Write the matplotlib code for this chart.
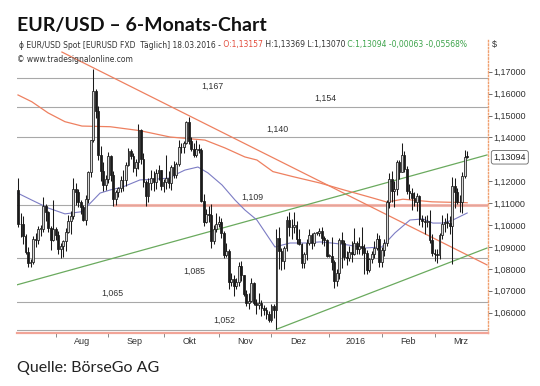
import matplotlib
matplotlib.use("Agg")
import matplotlib.pyplot as plt
import numpy as np
import pandas as pd

# daily EUR/USD bars, 13.07.2015 - 18.03.2016
dates = pd.bdate_range("2015-07-13", "2016-03-18")

opens = [
    1.1160, 1.1003, 1.1005, 1.0950, 1.0878, 1.0826, 1.0829, 1.0936, 1.0931, 1.0982, 1.0983, 1.1087, 1.1059, 1.0985, 1.0933,
    1.0982, 1.0955, 1.0890, 1.0903, 1.0925, 1.0968, 1.1017, 1.1040, 1.1166, 1.1150, 1.1106, 1.1083, 1.1025, 1.1120, 1.1242,
    1.1387, 1.1610, 1.1520, 1.1320, 1.1247, 1.1183,
    1.1211, 1.1313, 1.1228, 1.1120, 1.1150, 1.1168, 1.1204, 1.1206, 1.1276, 1.1339, 1.1314, 1.1262, 1.1287, 1.1433, 1.1302,
    1.1196, 1.1132, 1.1192, 1.1217, 1.1195, 1.1238, 1.1250,
    1.1177, 1.1195, 1.1215, 1.1193, 1.1263, 1.1228, 1.1277, 1.1357, 1.1355, 1.1376, 1.1472, 1.1382, 1.1349, 1.1318, 1.1345,
    1.1343, 1.1108, 1.1016, 1.1052, 1.1047, 1.0925, 1.0981,
    1.1005, 1.1014, 1.0962, 1.0864, 1.0882, 1.0740, 1.0752, 1.0722, 1.0739, 1.0814, 1.0773, 1.0685, 1.0644, 1.0655, 1.0734,
    1.0645, 1.0633, 1.0646, 1.0620, 1.0610, 1.0593,
    1.0565, 1.0632, 1.0612, 1.0940, 1.0883, 1.0837, 1.0893, 1.1025, 1.0992, 1.0990, 1.1000, 1.0935, 1.0913, 1.0827, 1.0867,
    1.0919, 1.0953, 1.0916, 1.0963, 1.0965, 1.0973, 1.0939, 1.0932,
    1.0860, 1.0860, 1.0830, 1.0745, 1.0782, 1.0931, 1.0919, 1.0855, 1.0850, 1.0876, 1.0866, 1.0917, 1.0891, 1.0906, 1.0895,
    1.0873, 1.0796, 1.0846, 1.0869, 1.0893, 1.0935,
    1.0831, 1.0886, 1.0919, 1.1103, 1.1208, 1.1155, 1.1163, 1.1290, 1.1244, 1.1320, 1.1254, 1.1155, 1.1146, 1.1123, 1.1107,
    1.1132, 1.1026, 1.1018, 1.1016, 1.1020, 1.0933,
    1.0873, 1.0868, 1.0865, 1.0955, 1.1003, 1.1014, 1.1011, 1.0994, 1.1178, 1.1152, 1.1106, 1.1104, 1.1222, 1.13157,
]
highs = [
    1.1215, 1.1055, 1.1040, 1.0960, 1.0902, 1.0845, 1.0950, 1.0965, 1.0995, 1.0998, 1.1130, 1.1095, 1.1065, 1.0995, 1.1113,
    1.0990, 1.0975, 1.0920, 1.0932, 1.0988, 1.1045, 1.1065, 1.1214, 1.1190, 1.1163, 1.1115, 1.1092, 1.1138, 1.1248, 1.1390,
    1.1714, 1.1620, 1.1545, 1.1360, 1.1289, 1.1227,
    1.1332, 1.1320, 1.1245, 1.1160, 1.1175, 1.1225, 1.1252, 1.1290, 1.1350, 1.1347, 1.1330, 1.1300, 1.1460, 1.1437, 1.1330,
    1.1205, 1.1215, 1.1250, 1.1245, 1.1255, 1.1275, 1.1253,
    1.1210, 1.1318, 1.1248, 1.1272, 1.1292, 1.1290, 1.1387, 1.1375, 1.1385, 1.1475, 1.1495, 1.1400, 1.1375, 1.1387, 1.1370,
    1.1350, 1.1140, 1.1075, 1.1088, 1.1095, 1.1000, 1.1055,
    1.1040, 1.1030, 1.0975, 1.0920, 1.0890, 1.0780, 1.0770, 1.0760, 1.0830, 1.0834, 1.0773, 1.0705, 1.0688, 1.0760, 1.0740,
    1.0660, 1.0690, 1.0657, 1.0635, 1.0627, 1.0607,
    1.0640, 1.0640, 1.0981, 1.0992, 1.0895, 1.0905, 1.1043, 1.1058, 1.1028, 1.1060, 1.1020, 1.0984, 1.0920, 1.0876, 1.0937,
    1.0980, 1.0965, 1.0970, 1.0968, 1.0988, 1.0993, 1.0950, 1.0938,
    1.0870, 1.0945, 1.0840, 1.0797, 1.0942, 1.0970, 1.0933, 1.0880, 1.0903, 1.0929, 1.0985, 1.0925, 1.0945, 1.0990, 1.0912,
    1.0888, 1.0850, 1.0880, 1.0925, 1.0962, 1.0955,
    1.0900, 1.0937, 1.1115, 1.1237, 1.1245, 1.1200, 1.1297, 1.1296, 1.1376, 1.1338, 1.1268, 1.1189, 1.1168, 1.1152, 1.1148,
    1.1135, 1.1048, 1.1040, 1.1047, 1.1070, 1.0960,
    1.0890, 1.0890, 1.0965, 1.1046, 1.1033, 1.1057, 1.1040, 1.1218, 1.1217, 1.1168, 1.1136, 1.1242, 1.1342, 1.13369,
]
lows = [
    1.0990, 1.0945, 1.0915, 1.0868, 1.0809, 1.0808, 1.0820, 1.0898, 1.0915, 1.0950, 1.0970, 1.1020, 1.0970, 1.0887, 1.0925,
    1.0930, 1.0870, 1.0848, 1.0852, 1.0880, 1.0962, 1.0958, 1.1028, 1.1090, 1.1083, 1.1050, 1.1017, 1.1000, 1.1102, 1.1220,
    1.1380, 1.1487, 1.1296, 1.1203, 1.1157, 1.1158,
    1.1194, 1.1203, 1.1087, 1.1090, 1.1130, 1.1150, 1.1157, 1.1180, 1.1270, 1.1300, 1.1244, 1.1223, 1.1257, 1.1277, 1.1175,
    1.1087, 1.1105, 1.1160, 1.1155, 1.1165, 1.1205, 1.1158,
    1.1152, 1.1165, 1.1168, 1.1158, 1.1215, 1.1213, 1.1270, 1.1330, 1.1330, 1.1370, 1.1371, 1.1336, 1.1312, 1.1310, 1.1328,
    1.1105, 1.0995, 1.1010, 1.1015, 1.0897, 1.0915, 1.0970,
    1.0990, 1.0940, 1.0850, 1.0854, 1.0706, 1.0720, 1.0674, 1.0710, 1.0720, 1.0743, 1.0675, 1.0630, 1.0617, 1.0650, 1.0635,
    1.0593, 1.0615, 1.0586, 1.0590, 1.0570, 1.0557,
    1.0555, 1.0575, 1.0524, 1.0800, 1.0796, 1.0800, 1.0882, 1.0950, 1.0935, 1.0965, 1.0915, 1.0910, 1.0804, 1.0806, 1.0840,
    1.0910, 1.0890, 1.0905, 1.0955, 1.0950, 1.0915, 1.0903, 1.0853,
    1.0855, 1.0795, 1.0711, 1.0722, 1.0752, 1.0804, 1.0840, 1.0818, 1.0835, 1.0830, 1.0864, 1.0870, 1.0870, 1.0865, 1.0778,
    1.0776, 1.0785, 1.0828, 1.0850, 1.0885, 1.0810,
    1.0810, 1.0860, 1.0905, 1.1080, 1.1103, 1.1082, 1.1135, 1.1210, 1.1240, 1.1240, 1.1143, 1.1120, 1.1068, 1.1085, 1.1065,
    1.1002, 1.0990, 1.0958, 1.0990, 1.0918, 1.0860,
    1.0834, 1.0825, 1.0846, 1.0937, 1.0970, 1.0985, 1.0957, 1.0822, 1.1080, 1.1095, 1.1058, 1.1056, 1.1213, 1.13070,
]
closes = [
    1.1003, 1.1005, 1.0950, 1.0878, 1.0826, 1.0829, 1.0936, 1.0931, 1.0982, 1.0983, 1.1087, 1.1059, 1.0985, 1.0933, 1.0982,
    1.0955, 1.0890, 1.0903, 1.0925, 1.0968, 1.1017, 1.1040, 1.1166, 1.1150, 1.1106, 1.1083, 1.1025, 1.1120, 1.1242, 1.1387,
    1.1610, 1.1520, 1.1320, 1.1247, 1.1183, 1.1211,
    1.1313, 1.1228, 1.1120, 1.1150, 1.1168, 1.1204, 1.1206, 1.1276, 1.1339, 1.1314, 1.1262, 1.1287, 1.1433, 1.1302, 1.1196,
    1.1132, 1.1192, 1.1217, 1.1195, 1.1238, 1.1250, 1.1177,
    1.1195, 1.1215, 1.1193, 1.1263, 1.1228, 1.1277, 1.1357, 1.1355, 1.1376, 1.1472, 1.1382, 1.1349, 1.1318, 1.1345, 1.1343,
    1.1108, 1.1016, 1.1052, 1.1047, 1.0925, 1.0981, 1.1005,
    1.1014, 1.0962, 1.0864, 1.0882, 1.0740, 1.0752, 1.0722, 1.0739, 1.0814, 1.0773, 1.0685, 1.0644, 1.0655, 1.0734, 1.0645,
    1.0633, 1.0646, 1.0620, 1.0610, 1.0593, 1.0565,
    1.0632, 1.0612, 1.0940, 1.0883, 1.0837, 1.0893, 1.1025, 1.0992, 1.0990, 1.1000, 1.0935, 1.0913, 1.0827, 1.0867, 1.0919,
    1.0953, 1.0916, 1.0963, 1.0965, 1.0973, 1.0939, 1.0932, 1.0860,
    1.0860, 1.0830, 1.0745, 1.0782, 1.0931, 1.0919, 1.0855, 1.0850, 1.0876, 1.0866, 1.0917, 1.0891, 1.0906, 1.0895, 1.0873,
    1.0796, 1.0846, 1.0869, 1.0893, 1.0935, 1.0831,
    1.0886, 1.0919, 1.1103, 1.1208, 1.1155, 1.1163, 1.1290, 1.1244, 1.1320, 1.1254, 1.1155, 1.1146, 1.1123, 1.1107, 1.1132,
    1.1026, 1.1018, 1.1016, 1.1020, 1.0933, 1.0873,
    1.0868, 1.0865, 1.0955, 1.1003, 1.1014, 1.1011, 1.0994, 1.1178, 1.1152, 1.1106, 1.1104, 1.1222, 1.1312, 1.13094,
]

# moving averages (bar index, value)
ma_long_idx = [0, 5.5, 12, 18.7, 25.5, 36.7, 48.6, 60.6, 74.5, 82.5, 90.4, 95.2, 101.6, 109.6, 120.3, 130, 140, 147, 153.4, 165, 179]
ma_long_val = [1.1594, 1.1563, 1.1512, 1.1472, 1.1452, 1.1449, 1.1431, 1.1402, 1.1388, 1.1352, 1.1311, 1.1297, 1.1244,
               1.1221, 1.1192, 1.1160, 1.1128, 1.1105, 1.1118, 1.1106, 1.1102]
ma_short_idx = [0, 5.5, 12, 18.7, 25.5, 30, 32.7, 36.7, 41.8, 48.6, 55.4, 60.6, 62.5, 66.5, 71.7, 75.7, 81.3, 86.5, 90.4,
                95.2, 102.4, 108.4, 115.1, 120.3, 125, 131.5, 138.2, 145, 150.2, 156.2, 161.4, 165.3, 169.3, 173.3, 179]
ma_short_val = [1.1145, 1.1114, 1.1078, 1.1051, 1.1061, 1.1114, 1.1146, 1.1160, 1.1174, 1.1206, 1.1210, 1.1215, 1.1229,
                1.1251, 1.1265, 1.1238, 1.1183, 1.1114, 1.1069, 1.1023, 1.0900, 1.0918, 1.0918, 1.0923, 1.0918, 1.0909,
                1.0895, 1.0900, 1.0964, 1.1023, 1.1028, 1.1009, 1.1009, 1.1023, 1.1055]

# support / resistance levels
levels = [1.167, 1.154, 1.140, 1.109, 1.085, 1.065, 1.052]
level_labels = ["1,167", "1,154", "1,140", "1,109", "1,085", "1,065", "1,052"]

# trend lines (start bar, start value, end bar, end value)
trend_down = (17.5, 1.1790, 186.9, 1.0818)
trend_up_top = (-0.4, 1.0727, 186.9, 1.1320)
trend_up_low = (103, 1.0524, 186.9, 1.0895)

yticks = [1.06, 1.07, 1.08, 1.09, 1.10, 1.11, 1.12, 1.14, 1.15, 1.16, 1.17]
month_names = ["Aug", "Sep", "Okt", "Nov", "Dez", "2016", "Feb", "Mrz"]

W, H = 540, 386
fig = plt.figure(figsize=(W / 100, H / 100), dpi=100)
ax = fig.add_axes([17 / W, (H - 333) / H, (488 - 17) / W, (333 - 40) / H])

x = np.arange(len(dates))
o = np.array(opens); h = np.array(highs); l = np.array(lows); c = np.array(closes)

# horizontal levels
for lv in levels:
    ax.axhline(lv, color="#a8a8a8", lw=0.8, zorder=1)
ax.plot([38, 190], [1.109, 1.109], color="#f2a497", lw=2.2, alpha=0.8, zorder=1.5, solid_capstyle="butt")

label_pos = [(73, -6), (118, 6), (99, 6), (89, 6), (66, -10), (33, 6), (78, 7)]
for lv, txt, (ix, dy) in zip(levels, level_labels, label_pos):
    ax.annotate(txt, xy=(ix, lv), xytext=(0, dy), textcoords="offset points",
                ha="left", va="center", fontsize=6.3, color="#333333", family="Liberation Sans")

# trend lines
for (x0, y0, x1, y1), col in [(trend_down, "#ee8060"), (trend_up_top, "#6aaa5e"), (trend_up_low, "#6aaa5e")]:
    ax.plot([x0, x1], [y0, y1], color=col, lw=0.9, zorder=2)

ax.plot(ma_long_idx, ma_long_val, color="#ee8060", lw=0.9, zorder=2)
ax.plot(ma_short_idx, ma_short_val, color="#7c7cc4", lw=0.8, zorder=2)

# candles
up = c >= o
ax.vlines(x, l, h, color="#1a1a1a", lw=0.75, zorder=3)
body = np.maximum(np.abs(c - o), 0.0003)
ax.bar(x[up], body[up], bottom=o[up], width=0.72, color="#d8d8d8", edgecolor="#1a1a1a", linewidth=0.55, zorder=4)
ax.bar(x[~up], body[~up], bottom=c[~up], width=0.72, color="#1a1a1a", edgecolor="#1a1a1a", linewidth=0.55, zorder=4)

ax.set_xlim(-0.4, 187.3)
ax.set_ylim(1.0507, 1.1845)

# axes styling
for s in ["left", "top"]:
    ax.spines[s].set_visible(False)
ax.spines["right"].set_color("#f0a070")
ax.spines["right"].set_linestyle((0, (1, 1.5)))
ax.spines["right"].set_linewidth(1.0)
ax.spines["bottom"].set_color("#f2a497")
ax.spines["bottom"].set_linewidth(1.6)

ax.yaxis.tick_right()
ax.set_yticks(yticks)
ax.set_yticklabels([f"{v:.5f}".replace(".", ",") for v in yticks])
ax.tick_params(axis="y", length=3, width=0.6, color="#555555", labelsize=6.5, labelcolor="#333333", pad=1)

month_start = [i for i in range(1, len(dates)) if dates[i].month != dates[i - 1].month]
ax.set_xticks(month_start)
ax.set_xticklabels([])
ax.set_xticks([m + 10.5 for m in month_start], minor=True)
ax.set_xticklabels(month_names, minor=True)
ax.tick_params(axis="x", which="major", length=3, width=0.6, color="#777777")
ax.tick_params(axis="x", which="minor", length=0, labelsize=6.5, labelcolor="#333333", pad=3)
for t in ax.get_xticklabels(minor=True) + ax.get_yticklabels():
    t.set_family("Liberation Sans")

# last price marker
ax.annotate("1,13094", xy=(1, closes[-1]), xycoords=("axes fraction", "data"), xytext=(4, 0),
            textcoords="offset points", va="center", ha="left", fontsize=6.5, color="#222222",
            family="Liberation Sans",
            bbox=dict(boxstyle="round,pad=0.25", fc="white", ec="#666666", lw=0.6))

# header
fig.text(17 / W, 1 - 26 / H, "EUR/USD – 6-Monats-Chart", fontsize=14, fontweight="bold",
         family="Lato", va="center", ha="left", color="#111111")
parts = [("ϕ EUR/USD Spot [EURUSD FXD  Täglich] 18.03.2016 -", "#333333"),
         (" O:1,13157", "#e24b3b"),
         (" H:1,13369 L:1,13070", "#333333"),
         (" C:1,13094 -0,00063 -0,05568%", "#3ca34a")]
prev = None
for txt, col in parts:
    kw = dict(fontsize=5.5, color=col, family=["Liberation Sans Narrow", "DejaVu Sans"], annotation_clip=False)
    if prev is None:
        prev = ax.annotate(txt, xy=(19 / W, 1 - 45 / H), xycoords="figure fraction", va="center", ha="left", **kw)
    else:
        prev = ax.annotate(txt, xy=(1, 0), xycoords=prev, va="bottom", ha="left", **kw)
fig.text(17 / W, 1 - 59 / H, "© www.tradesignalonline.com", fontsize=5.5, color="#333333",
         family=["Liberation Sans Narrow", "DejaVu Sans"], va="center", ha="left")
fig.text(492 / W, 1 - 45 / H, "$", fontsize=6.5, color="#333333", family="Liberation Sans", va="center")

fig.text(17 / W, 1 - 368 / H, "Quelle: BörseGo AG", fontsize=11.5, family="Lato", color="#222222",
         va="center", ha="left")

fig.savefig("out.png", dpi=100)
